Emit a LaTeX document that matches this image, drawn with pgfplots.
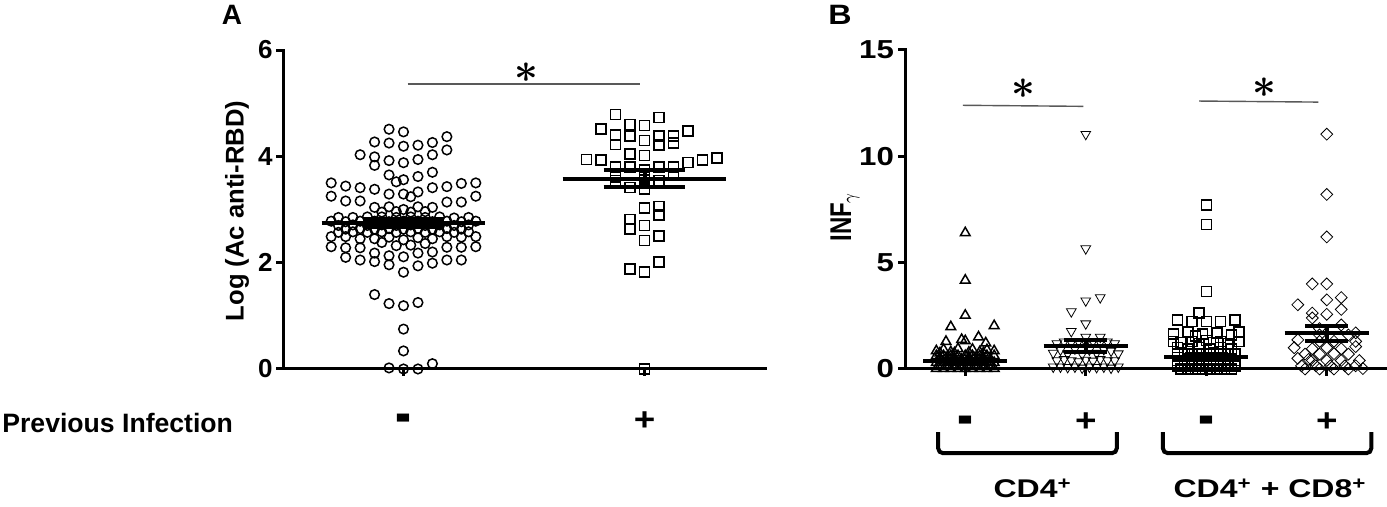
\documentclass[border=0pt]{standalone}
\usepackage{fontspec}
\setmainfont{Liberation Sans}
\usepackage{pgfplots}
\pgfplotsset{compat=1.18}
\pgfplotsset{
  panel/.style={
    scale only axis, width=241pt, height=159.5pt,
    axis lines=left, axis line style={-, line width=1.5pt, line cap=rect},
    tick align=outside, major tick length=3.5pt,
    tick style={line width=1.5pt, black},
    xticklabels={},
    tick label style={font=\bfseries\fontsize{13}{15}\selectfont},
    yticklabel style={inner sep=1.5pt},
    /pgf/number format/assume math mode=true,
    clip=false,
  },
  pts/.style={only marks, black, mark options={line width=0.75pt, solid}},
  mbar/.style={black, line width=2pt, forget plot, no marks},
}
\tikzset{sig/.style={line width=0.7pt, black!65},
  minus/.style={font=\bfseries\fontsize{16}{18}\selectfont, xscale=1.5, yscale=2.1},
  plus/.style={font=\bfseries\fontsize{16}{18}\selectfont, xscale=1.15}}
\newcommand{\sigstar}{{\boldmath\fontsize{20}{20}\selectfont$\ast$}}
\begin{document}
\begin{tikzpicture}
\useasboundingbox (0,0) rectangle (693.5pt,253.5pt);
% ---------------- Panel A ----------------
\begin{axis}[panel, at={(141.5pt,69pt)}, anchor=south west,
  xmin=-0.5, xmax=1.5, ymin=0, ymax=6, xtick={0,1}, ytick={0,2,4,6}]
\addplot[pts, mark=o, mark size=2.4pt] coordinates {
(-0.06,4.51) (0,4.46) (0.18,4.37) (-0.12,4.27) (-0.06,4.25) (0,4.19) (0.06,4.21) (0.12,4.26) (0.18,4.12)
(-0.18,4.03) (-0.12,3.99) (-0.06,3.92) (0,3.88) (0.06,3.94) (0.12,4.03) (-0.12,3.83) (-0.06,3.65) (0.06,3.62)
(0.12,3.70) (-0.03,3.52) (0,3.56)
(-0.30,3.50) (-0.24,3.44) (-0.18,3.41) (-0.12,3.38) (0.12,3.41) (0.18,3.43) (0.24,3.49) (0.30,3.50)
(-0.30,3.25) (-0.24,3.16) (-0.18,3.16) (-0.12,3.04) (-0.06,3.29) (0,3.29) (0.03,3.24) (0.06,3.33) (0.12,3.04)
(0.18,3.14) (0.24,3.14) (0.30,3.25)
(-0.06,3.05) (0,3.00) (0.06,3.05) (-0.09,2.95) (-0.03,2.96) (0.03,2.95) (0.09,2.96)
(-0.27,2.85) (-0.21,2.85) (-0.15,2.86) (-0.09,2.86) (-0.03,2.85) (0.03,2.86) (0.09,2.85) (0.15,2.86) (0.21,2.84) (0.27,2.85)
(-0.30,2.78) (-0.24,2.77) (-0.18,2.78) (-0.12,2.78) (-0.06,2.77) (0,2.78) (0.06,2.78) (0.12,2.77) (0.18,2.78) (0.24,2.77) (0.30,2.78)
(-0.27,2.70) (-0.21,2.71) (-0.15,2.70) (-0.09,2.71) (-0.03,2.70) (0.03,2.71) (0.09,2.70) (0.15,2.71) (0.21,2.70) (0.27,2.71)
(-0.24,2.63) (-0.18,2.64) (-0.12,2.63) (-0.06,2.64) (0,2.63) (0.06,2.64) (0.12,2.63) (0.18,2.64) (0.24,2.63)
(-0.27,2.57) (-0.21,2.58) (-0.15,2.57) (-0.09,2.58) (-0.03,2.57) (0.03,2.58) (0.09,2.57) (0.15,2.58) (0.21,2.57) (0.27,2.58)
(-0.30,2.49) (-0.24,2.49) (-0.18,2.45) (-0.12,2.45) (-0.06,2.48) (0,2.43) (0.06,2.47) (0.12,2.45) (0.18,2.49) (0.24,2.48) (0.30,2.49)
(-0.09,2.38) (-0.03,2.32) (0.03,2.33) (0.09,2.36)
(-0.30,2.30) (-0.24,2.28) (-0.24,2.10) (-0.18,2.28) (-0.18,2.05) (-0.12,2.18) (-0.12,2.02) (-0.06,2.13) (-0.06,1.96)
(0,2.11) (0,1.82) (0.06,2.18) (0.06,1.94) (0.12,2.20) (0.12,1.99) (0.18,2.29) (0.18,2.05) (0.24,2.29) (0.24,2.05) (0.30,2.30)
(-0.12,1.40) (-0.06,1.23) (0,1.19) (0.06,1.25) (0,0.75) (0,0.34) (-0.06,0.02) (0,0.0) (0.06,0.0) (0.12,0.10)
};
\addplot[pts, mark=square, mark size=2.5pt] coordinates {
(0.88,4.79) (1.06,4.73) (0.82,4.51) (0.94,4.60) (1,4.58) (1.18,4.48) (0.88,4.40) (0.94,4.38) (1,4.30) (1.06,4.38)
(1.12,4.38) (0.88,4.22) (1.06,4.21) (1.12,4.25) (0.94,4.04) (1,4.02) (0.76,3.94) (0.82,3.93) (1.18,3.88) (1.24,3.93)
(1.30,3.97) (0.88,3.80) (0.94,3.80) (1,3.74) (1.06,3.80) (1.12,3.80) (0.88,3.61) (0.88,3.55) (1,3.61) (1.06,3.55)
(1.12,3.67) (0.94,3.41) (1,3.39) (1,3.03) (1.06,3.06) (1.06,2.90) (0.94,2.81) (0.94,2.63) (1,2.70) (1,2.42)
(1.06,2.50) (0.94,1.88) (1,1.82) (1.06,2.01) (1,0.0)
};
% mean and SEM
\addplot[mbar] coordinates {(-0.34,2.75) (0.34,2.75)};
\addplot[mbar] coordinates {(-0.17,2.82) (0.17,2.82)};
\addplot[mbar] coordinates {(-0.17,2.68) (0.17,2.68)};
\addplot[mbar] coordinates {(0,2.68) (0,2.82)};
\addplot[mbar] coordinates {(0.66,3.57) (1.34,3.57)};
\addplot[mbar] coordinates {(0.83,3.74) (1.17,3.74)};
\addplot[mbar] coordinates {(0.83,3.43) (1.17,3.43)};
\addplot[mbar] coordinates {(1,3.43) (1,3.74)};
\draw[sig] (axis cs:0.017,5.36) -- (axis cs:0.98,5.36);
\node at (axis cs:0.51,5.58) {\sigstar};
\node[minus] at (axis cs:0,-1.05) {-};
\node[plus] at (axis cs:1,-0.98) {+};
\end{axis}
% ---------------- Panel B ----------------
\begin{axis}[panel, at={(452.5pt,69pt)}, anchor=south west,
  xmin=-0.5, xmax=3.5, ymin=0, ymax=15, xtick={0,1,2,3}, ytick={0,5,10,15},
  yticklabel style={xscale=1.2}]
\addplot[pts, mark=triangle, mark size=2.8pt] coordinates {
(0,6.40) (0,4.17) (0,2.52) (-0.12,1.98) (0.24,2.03) (-0.16,1.29) (0.11,1.50) (0.17,1.22) (0,1.32) (-0.03,1.38)
(-0.24,0.85) (-0.18,0.92) (-0.06,0.95) (0.06,0.92) (0.18,0.90) (0.24,0.85) (-0.12,0.80) (0.12,0.80)
(-0.21,0.75) (-0.09,0.75) (0.03,0.78) (0.15,0.75)
(-0.24,0.62) (-0.18,0.62) (-0.12,0.62) (-0.06,0.62) (0,0.62) (0.06,0.62) (0.12,0.62) (0.18,0.62) (0.24,0.62)
(-0.21,0.52) (-0.09,0.52) (0.03,0.52) (0.15,0.52)
(-0.21,0.45) (-0.15,0.45) (-0.09,0.45) (-0.03,0.45) (0.03,0.45) (0.09,0.45) (0.15,0.45) (0.21,0.45)
(-0.24,0.30) (-0.18,0.30) (-0.12,0.30) (-0.06,0.30) (0,0.30) (0.06,0.30) (0.12,0.30) (0.18,0.30) (0.24,0.30)
(-0.21,0.15) (-0.15,0.15) (-0.09,0.15) (-0.03,0.15) (0.03,0.15) (0.09,0.15) (0.15,0.15) (0.21,0.15)
(-0.24,0.02) (-0.18,0.02) (-0.12,0.02) (-0.06,0.02) (0,0.02) (0.06,0.02) (0.12,0.02) (0.18,0.02) (0.24,0.02)
};
\addplot[pts, mark=triangle, mark size=2.8pt, mark options={rotate=180}] coordinates {
(1,11.04) (1,5.66) (1,3.21) (1.12,3.36) (0.88,2.70) (1,2.13) (0.88,1.77) (1,1.50) (1.12,1.50)
(0.76,1.2) (0.82,1.28) (0.88,1.25) (0.94,1.3) (1,1.25) (1.06,1.3) (1.12,1.25) (1.18,1.28) (1.24,1.2)
(0.79,0.9) (0.91,0.95) (1.03,0.9) (1.15,0.92) (1.21,0.85)
(0.73,0.75) (0.85,0.72) (0.97,0.7) (1.09,0.75) (1.27,0.72)
(0.76,0.4) (0.82,0.45) (0.88,0.4) (0.94,0.35) (1,0.42) (1.06,0.38) (1.12,0.45) (1.18,0.4) (1.24,0.4)
(0.73,0.1) (0.79,0.1) (0.85,0.08) (0.91,0.1) (0.97,0.05) (1.03,0.1) (1.09,0.08) (1.15,0.1) (1.21,0.05) (1.27,0.1)
};
\addplot[pts, mark=square, mark size=2.5pt] coordinates {
(2,7.70) (2,6.79) (2,3.65) (1.94,2.63) (1.76,2.31) (1.88,2.23) (2,2.23) (2.12,2.23) (2.24,2.31)
(1.73,1.65) (1.85,1.75) (1.97,1.65) (2.09,1.7) (2.21,1.6) (2.27,1.75) (1.91,1.55)
(1.73,1.3) (1.79,1.25) (1.88,1.3) (1.94,1.2) (2,1.35) (2.06,1.25) (2.12,1.3) (2.18,1.2) (2.27,1.3)
(1.76,1.0) (1.85,0.95) (1.94,1.0) (2.03,0.95) (2.12,1.0) (2.21,0.95)
(1.76,0.7) (1.82,0.7) (1.88,0.7) (1.94,0.7) (2,0.7) (2.06,0.7) (2.12,0.7) (2.18,0.7) (2.24,0.7)
(1.76,0.4) (1.82,0.4) (1.88,0.4) (1.94,0.4) (2,0.4) (2.06,0.4) (2.12,0.4) (2.18,0.4) (2.24,0.4)
(1.76,0.15) (1.82,0.15) (1.88,0.15) (1.94,0.15) (2,0.15) (2.06,0.15) (2.12,0.15) (2.18,0.15) (2.24,0.15)
(1.79,0.0) (1.85,0.0) (1.91,0.0) (1.97,0.0) (2.03,0.0) (2.09,0.0) (2.15,0.0) (2.21,0.0)
};
\addplot[pts, mark=square, mark size=2.1pt, mark options={rotate=45}] coordinates {
(3,11.04) (3,8.21) (3,6.21) (2.88,4.0) (3,4.0) (2.76,3.02) (3,3.25) (3.12,3.36) (2.88,2.63) (3,2.57) (3.12,2.8)
(2.88,2.4) (3.12,2.07) (2.94,1.9) (3.24,1.7)
(2.94,1.6) (3.18,1.6) (2.76,1.37) (2.94,1.3) (3.06,1.3) (3.24,1.3)
(2.73,1.0) (2.88,0.95) (3,1.0) (3.12,0.95) (3.24,1.05)
(2.82,0.7) (2.94,0.7) (3.06,0.72) (3.18,0.7)
(2.76,0.5) (2.85,0.45) (2.88,0.4) (3,0.4) (3.12,0.4) (3.27,0.4)
(2.79,0.15) (2.91,0.15) (3.03,0.15) (3.15,0.15) (3.24,0.15)
(2.82,0) (2.94,0) (3.06,0) (3.18,0) (3.3,0.02)
};
% mean and SEM
\addplot[mbar] coordinates {(-0.35,0.38) (0.35,0.38)};
\addplot[mbar] coordinates {(-0.18,0.49) (0.18,0.49)};
\addplot[mbar] coordinates {(-0.18,0.27) (0.18,0.27)};
\addplot[mbar] coordinates {(0.65,1.08) (1.35,1.08)};
\addplot[mbar] coordinates {(0.82,1.37) (1.18,1.37)};
\addplot[mbar] coordinates {(0.82,0.80) (1.18,0.80)};
\addplot[mbar] coordinates {(1,0.80) (1,1.37)};
\addplot[mbar] coordinates {(1.65,0.58) (2.35,0.58)};
\addplot[mbar] coordinates {(1.82,0.72) (2.18,0.72)};
\addplot[mbar] coordinates {(1.82,0.45) (2.18,0.45)};
\addplot[mbar] coordinates {(2.65,1.70) (3.35,1.70)};
\addplot[mbar] coordinates {(2.82,2.04) (3.18,2.04)};
\addplot[mbar] coordinates {(2.82,1.32) (3.18,1.32)};
\addplot[mbar] coordinates {(3,1.32) (3,2.04)};
\draw[sig] (axis cs:-0.02,12.4) -- (axis cs:0.98,12.35);
\draw[sig] (axis cs:1.94,12.6) -- (axis cs:2.93,12.55);
\node at (axis cs:0.48,13.2) {\sigstar};
\node at (axis cs:2.48,13.25) {\sigstar};
\node[minus] at (axis cs:0,-2.7) {-};
\node[plus] at (axis cs:1,-2.5) {+};
\node[minus] at (axis cs:2,-2.7) {-};
\node[plus] at (axis cs:3,-2.5) {+};
\draw[line width=2pt, rounded corners=2.5pt] (axis cs:-0.225,-2.97) |- (axis cs:1.258,-3.96) -- (axis cs:1.258,-2.97);
\draw[line width=2pt, rounded corners=2.5pt] (axis cs:1.64,-2.97) |- (axis cs:3.37,-3.96) -- (axis cs:3.37,-2.97);
\node[font=\bfseries\fontsize{12.8}{15}\selectfont, xscale=1.25] at (axis cs:0.56,-5.61) {CD4\textsuperscript{+}};
\node[font=\bfseries\fontsize{12.8}{15}\selectfont, xscale=1.25] at (axis cs:2.53,-5.61) {CD4\textsuperscript{+} + CD8\textsuperscript{+}};
\end{axis}
% labels outside axes
\node[font=\bfseries\fontsize{14}{16}\selectfont] at (116pt,246pt) {A};
\node[font=\bfseries\fontsize{14}{16}\selectfont, xscale=1.15] at (420pt,246pt) {B};
\node[font=\bfseries\fontsize{13.3}{15}\selectfont, anchor=west, inner sep=0pt] at (1pt,42pt) {Previous Infection};
\node[font=\bfseries\fontsize{12.8}{14}\selectfont, rotate=90] at (118.5pt,148pt) {Log (Ac anti-RBD)};
\node[font=\bfseries\fontsize{12}{14}\selectfont, xscale=1.25, rotate=90] at (422.5pt,145pt) {INF$_\gamma$};
\end{tikzpicture}
\end{document}
